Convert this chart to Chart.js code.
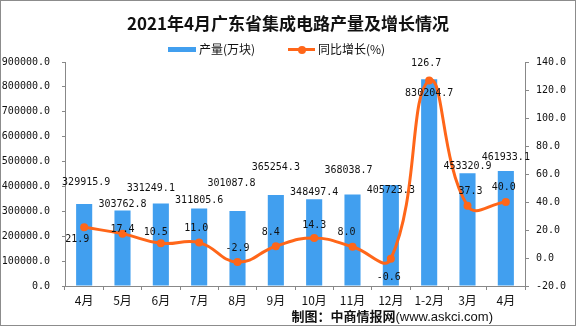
<!DOCTYPE html>
<html>
<head>
<meta charset="utf-8">
<script src="https://cdn.jsdelivr.net/npm/chart.js@4/dist/chart.umd.min.js"></script>
<style>
  html, body { margin: 0; padding: 0; background: #fff; }
  #wrap { position: relative; width: 576px; height: 326px; overflow: hidden; }
  #chart { position: absolute; left: 0; top: 0; }
  #frame { position: absolute; left: 0; top: 0; width: 574px; height: 324px; border: 1px solid #8c8c8c; pointer-events: none; }
  #title { position: absolute; left: 0; width: 576px; top: 10px; text-align: center;
           font: bold 17px "Noto Sans CJK SC", sans-serif; color: #111; }
  #legend { position: absolute; top: 40px; left: 168px; font: 12px "Noto Sans CJK SC", sans-serif; color: #111; }
  #legend span { position: absolute; white-space: nowrap; }
  .swatchBar { width: 28px; height: 5px; background: #419FEF; top: 7px; left: 0; }
  .swatchLine { width: 27px; height: 3px; background: #FF6619; top: 8px; left: 120px; }
  .swatchDot { width: 8px; height: 8px; border-radius: 50%; background: #FF6619; top: 5.5px; left: 130px; }
  #credit { position: absolute; right: 83px; top: 306px; font: bold 13px "Noto Sans CJK SC", sans-serif; color: #111; white-space: nowrap; }
  #credit .url { font: 13px "Liberation Sans", sans-serif; font-weight: normal; }
</style>
</head>
<body>
<div id="wrap">
  <canvas id="chart" width="576" height="326"></canvas>
  <div id="title">2021年4月广东省集成电路产量及增长情况</div>
  <div id="legend">
    <span class="swatchBar"></span>
    <span style="left:31px; top:0;">产量(万块)</span>
    <span class="swatchLine"></span>
    <span class="swatchDot"></span>
    <span style="left:150px; top:0;">同比增长(%)</span>
  </div>
  <div id="credit">制图：中商情报网<span class="url">(www.askci.com)</span></div>
  <div id="frame"></div>
</div>
<script>
// categories and values
const months = ['4月', '5月', '6月', '7月', '8月', '9月', '10月', '11月', '12月', '1-2月', '3月', '4月'];
const output = [329915.9, 303762.8, 331249.1, 311805.6, 301087.8, 365254.3, 348497.4, 368038.7, 405723.3, 830204.7, 453320.9, 461933.1];
const growth = [21.9, 17.4, 10.5, 11.0, -2.9, 8.4, 14.3, 8.0, -0.6, 126.7, 37.3, 40.0];

// label nudges (px) so the value labels sit where the original puts them
const barLabelDx = [2, 0, -10, 0, -6, 0, 0, -4, 0, 0, 0, 0];
const barLabelDy = [-21, -6, -15, -8, -28, -28, -7, -24, 5, 14, -7, -14];
const lineLabelDx = [-7, 0, -5, -3, 0, -5, 0, -6, -2, -3, 3, -2];
const lineLabelDy = [12, -4, -11, -14, -14, -14, -13, -14, 19, -17, -14, -15];

const BAR_COLOR = '#419FEF';
const LINE_COLOR = '#FF6619';
const MONO = '10px "DejaVu Sans Mono", monospace';

// draws the numbers next to bars and points
const valueLabels = {
    id: 'valueLabels',
    afterDatasetsDraw(chart) {
        const ctx = chart.ctx;
        ctx.save();
        ctx.font = MONO;
        ctx.fillStyle = '#111';
        ctx.textAlign = 'center';
        ctx.textBaseline = 'middle';
        // dataset 0 = bars, dataset 1 = line
        chart.getDatasetMeta(0).data.forEach((bar, i) => {
            ctx.fillText(output[i].toFixed(1), bar.x + barLabelDx[i], bar.y + barLabelDy[i]);
        });
        chart.getDatasetMeta(1).data.forEach((pt, i) => {
            ctx.fillText(growth[i].toFixed(1), pt.x + lineLabelDx[i], pt.y + lineLabelDy[i]);
        });
        ctx.restore();
    }
};

const axisColor = '#888';

new Chart(document.getElementById('chart'), {
    data: {
        labels: months,
        datasets: [
            {
                type: 'bar',
                label: '产量(万块)',
                data: output,
                yAxisID: 'y',
                backgroundColor: BAR_COLOR,
                barPercentage: 0.42,
                categoryPercentage: 1.0,
                order: 1
            },
            {
                type: 'line',
                label: '同比增长(%)',
                data: growth,
                yAxisID: 'y1',
                borderColor: LINE_COLOR,
                backgroundColor: LINE_COLOR,
                borderWidth: 3,
                pointRadius: 4,
                pointBackgroundColor: LINE_COLOR,
                pointBorderWidth: 0,
                tension: 0.45,
                order: 0
            }
        ]
    },
    options: {
        responsive: false,
        animation: false,
        layout: { padding: { top: 62, left: 0, right: 0, bottom: 0 } },
        plugins: { legend: { display: false }, title: { display: false }, tooltip: { enabled: false } },
        scales: {
            x: {
                offset: true,
                grid: { offset: true, drawOnChartArea: false, drawTicks: true, tickLength: 4, color: axisColor },
                border: { display: true, color: axisColor, width: 1 },
                ticks: { font: { family: '"Noto Sans CJK SC", sans-serif', size: 12 }, color: '#111', padding: 3, maxRotation: 0, autoSkip: false },
                afterFit(scale) { scale.height = 40; }
            },
            y: {
                position: 'left',
                min: 0, max: 900000,
                grid: { drawOnChartArea: false, drawTicks: true, tickLength: 3, color: axisColor },
                border: { display: true, color: axisColor, width: 1 },
                ticks: {
                    stepSize: 100000,
                    font: { family: '"DejaVu Sans Mono", monospace', size: 10 },
                    color: '#111',
                    padding: 12,
                    callback: v => v.toFixed(1)
                },
                afterFit(scale) { scale.width = 65; }
            },
            y1: {
                position: 'right',
                min: -20, max: 140,
                grid: { drawOnChartArea: false, drawTicks: true, tickLength: 4, color: axisColor },
                border: { display: true, color: axisColor, width: 1 },
                ticks: {
                    stepSize: 20,
                    font: { family: '"DejaVu Sans Mono", monospace', size: 10 },
                    color: '#111',
                    padding: 7,
                    callback: v => v.toFixed(1)
                },
                afterFit(scale) { scale.width = 51; }
            }
        }
    },
    plugins: [valueLabels]
});
</script>
</body>
</html>
